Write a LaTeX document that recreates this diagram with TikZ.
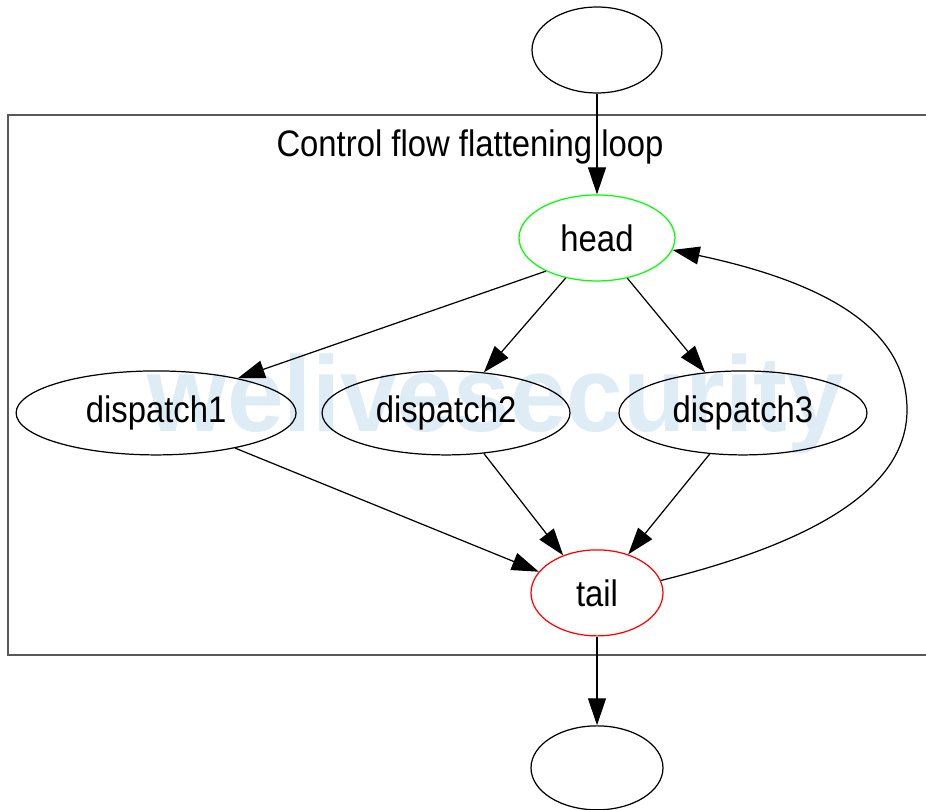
\documentclass[tikz,border=0pt]{standalone}
\usepackage{fontspec}
\setmainfont{Liberation Sans}
\newfontfamily\dotfont[FakeStretch=0.89]{Liberation Sans}
\newfontfamily\markfont[FakeStretch=0.95]{Liberation Sans}
\usepackage{tikz}
\usetikzlibrary{shapes.geometric,arrows.meta}
\definecolor{markblue}{RGB}{222,236,245}
\tikzstyle{block} = [ellipse, draw, line width=0.7pt, inner sep=0pt, text centered, font=\dotfont\fontsize{21}{25}\selectfont, minimum height=1.72cm]
\tikzstyle{connector} = [line width=0.7pt, -{Triangle[length=0.54cm, width=0.36cm]}]
\tikzstyle{cluster} = [line width=1pt, draw=black!65]

\begin{document}
\begin{tikzpicture}[x=0.02cm, y=-0.02cm]
        \useasboundingbox (0,0) rectangle (926,810);
        \node (watermark) [anchor=base, text=markblue, font=\markfont\bfseries\fontsize{61}{61}\selectfont] at (496,432) {welivesecurity};
        \draw [cluster] (930,115) -- (8,115) -- (8,655) -- (930,655);
        \node (title) [anchor=base, font=\dotfont\fontsize{21}{25}\selectfont] at (470,157) {Control flow flattening loop};
        \node (entry) [block, minimum width=2.6cm] at (597,50) {};
        \node (head) [block, draw=green, below of = entry, yshift = -2.76cm, minimum width=3.12cm] {head};
        \node (dispatch-2) [block, below of = head, yshift = -2.5cm, xshift = -3.02cm, minimum width=4.96cm, minimum height=1.68cm] {dispatch2};
        \node (dispatch-1) [block, left of = dispatch-2, xshift = -4.8cm, minimum width=5.6cm, minimum height=1.68cm] {dispatch1};
        \node (dispatch-3) [block, below of = head, yshift = -2.5cm, xshift = 2.92cm, minimum width=4.96cm, minimum height=1.68cm] {dispatch3};
        \node (tail) [block, draw=red, below of = head, yshift = -6.1cm, minimum width=2.64cm] {tail};
        \node (exit) [block, below of = tail, yshift = -2.5cm, minimum width=2.64cm, minimum height=1.68cm] {};
        \coordinate (loop-right) at (907,410);
        \draw [connector] (entry) -- (head);
        \draw [connector] (head.213) -- (dispatch-1.23);
        \draw [connector] (head.232) -- (dispatch-2.47);
        \draw [connector] (head.307) -- (dispatch-3.133);
        \draw [connector] (dispatch-1.336) -- (tail.160);
        \draw [connector] (dispatch-2.313) -- (tail.132);
        \draw [connector] (dispatch-3.231) -- (tail.51);
        \draw [connector] (tail.11) .. controls +(161,-40) and +(0,75) .. (loop-right) .. controls +(0,-56) and +(198,42) .. (head.351);
        \draw [connector] (tail) -- (exit);
    \end{tikzpicture}
\end{document}
